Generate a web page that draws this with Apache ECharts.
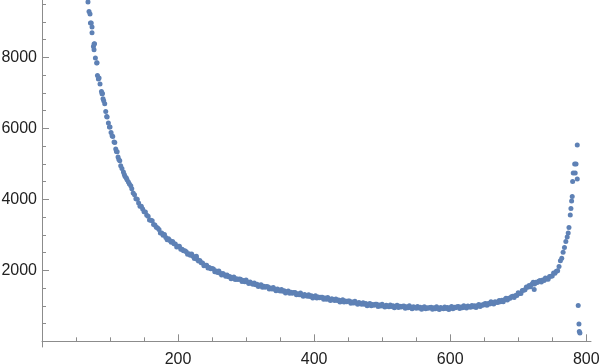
<!DOCTYPE html>
<html>
<head>
<meta charset="utf-8">
<script src="https://cdn.jsdelivr.net/npm/echarts@6/dist/echarts.min.js"></script>
<style>html,body{margin:0;padding:0;background:#fff;}#c{width:600px;height:364px;}</style>
</head>
<body>
<div id="c"></div>
<script>
// X tick labels and Y tick labels
const xMajorTicks = [200, 400, 600, 800];
const xMinorTicks = [50, 100, 150, 250, 300, 350, 450, 500, 550, 650, 700, 750];
const yMajorTicks = [2000, 4000, 6000, 8000];
const yMinorTicks = [500, 1000, 1500, 2500, 3000, 3500, 4500, 5000, 5500, 6500, 7000, 7500, 8500, 9000, 9500];

// steep left tail (sparse points)
const leftPoints = [
[67.6,9560],[69.1,9295],[70.6,9222],[71.2,8968],[72.4,8970],[73.5,8856],[73.5,8695],[75.6,8309],[76.5,8377],[77.2,8380],[76.5,8216],[78.5,7982],[80.4,7841],[80.9,7845],[81.5,7492],[82.9,7390],[83.9,7420],[85.3,7249],[87.4,7041],[88.2,6976],[88.9,6985],[89.7,6835],[90.7,6778],[92.2,6694],[93.7,6477],[95.1,6336],[95.7,6320],[97.6,6150],[99.1,6037],[100.0,6040],[101.5,5885],[103.0,5790],[104.0,5772],[105.9,5614],[107.0,5600],[108.4,5417],[109.4,5350],[110.5,5340],[111.8,5192],[113.0,5120],[114.3,5087],[115.7,4946],[117.5,4870],[119.7,4769],[121.0,4700],[122.1,4645],[124.0,4600],[125.0,4552],[127.0,4490],[128.5,4431],[130.5,4380]
];

// main band
const bandPoints = [
[132,4300],[134,4180],[136,4132],[138,4019],[140,4000],[142,3895],[144,3805],[146,3804],[148,3728],[150,3652],[152,3646],[154,3550],[156,3523],[158,3416],[160,3412],[162,3397],[164,3291],[166,3280],[168,3216],[170,3193],[172,3149],[174,3051],[176,3053],[178,2990],[180,3007],[182,2924],[184,2861],[186,2888],[188,2840],[190,2792],[192,2814],[194,2746],[196,2743],[198,2660],[200,2677],[202,2679],[204,2591],[206,2597],[208,2553],[210,2549],[212,2525],[214,2450],[216,2470],[218,2425],[220,2460],[222,2395],[224,2335],[226,2360],[227,2400],[228,2310],[230,2260],[232,2280],[234,2212],[236,2209],[238,2126],[240,2143],[242,2145],[244,2065],[246,2080],[248,2045],[250,2050],[252,2035],[254,1962],[256,1984],[258,1941],[260,1978],[262,1915],[264,1869],[266,1908],[268,1872],[270,1836],[272,1870],[274,1817],[276,1828],[278,1760],[280,1792],[282,1810],[284,1740],[286,1765],[288,1740],[290,1755],[292,1750],[294,1685],[296,1715],[298,1680],[300,1725],[302,1669],[304,1627],[306,1671],[308,1639],[310,1607],[312,1646],[314,1595],[316,1609],[318,1543],[320,1577],[322,1596],[324,1525],[326,1550],[328,1526],[330,1542],[332,1538],[334,1474],[336,1505],[338,1471],[340,1518],[342,1466],[344,1428],[346,1475],[348,1448],[350,1420],[352,1461],[354,1412],[356,1427],[358,1363],[360,1399],[362,1420],[364,1352],[366,1380],[368,1357],[370,1374],[372,1372],[374,1309],[376,1342],[378,1311],[380,1359],[382,1308],[384,1271],[386,1320],[388,1294],[390,1268],[392,1312],[394,1265],[396,1284],[398,1223],[400,1262],[402,1285],[404,1219],[406,1248],[408,1226],[410,1245],[412,1244],[414,1184],[416,1218],[418,1188],[420,1237],[422,1187],[424,1151],[426,1201],[428,1175],[430,1149],[432,1193],[434,1148],[436,1167],[438,1107],[440,1147],[442,1172],[444,1107],[446,1137],[448,1117],[450,1137],[452,1136],[454,1076],[456,1111],[458,1080],[460,1130],[462,1079],[464,1044],[466,1093],[468,1068],[470,1042],[472,1087],[474,1042],[476,1063],[478,1003],[480,1044],[482,1069],[484,1005],[486,1037],[488,1019],[490,1041],[492,1042],[494,984],[496,1021],[498,993],[500,1045],[502,998],[504,965],[506,1017],[508,994],[510,972],[512,1020],[514,978],[516,1001],[518,944],[520,987],[522,1015],[524,952],[526,985],[528,967],[530,990],[532,992],[534,935],[536,973],[538,946],[540,999],[542,952],[544,920],[546,973],[548,952],[550,930],[552,979],[554,937],[556,961],[558,904],[560,948],[562,976],[564,915],[566,949],[568,932],[570,956],[572,961],[574,905],[576,945],[578,920],[580,974],[582,929],[584,899],[586,955],[588,935],[590,915],[592,965],[594,926],[596,952],[598,899],[600,946],[602,978],[604,920],[606,957],[608,944],[610,972],[612,980],[614,927],[616,970],[618,948],[620,1005],[622,963],[624,936],[626,993],[628,976],[630,959],[632,1012],[634,976],[636,1005],[638,954],[640,1003],[642,1036],[644,980],[646,1024],[648,1017],[650,1051],[652,1064],[654,1018],[656,1066],[658,1050],[660,1113],[662,1075],[664,1053],[666,1115],[668,1103],[670,1091],[672,1148],[674,1118],[676,1156],[678,1114],[680,1172],[682,1215],[684,1167],[686,1215],[688,1213],[690,1253],[692,1273],[694,1233],[696,1291],[698,1289],[700,1367],[702,1345],[704,1345],[706,1430],[708,1440],[710,1450],[712,1530],[714,1520],[716,1570],[718,1540],[720,1610],[722,1665],[723.5,1460],[724,1616],[726,1662],[728,1658],[730,1694],[732,1710],[734,1670],[736,1725],[738,1715],[740,1785],[742,1755],[744,1750],[746,1829],[748,1834],[750,1842],[752,1925],[754,1917],[756,1975],[758,1990],[760,2105],[762,2268],[764,2342],[766,2510],[768,2642],[770,2812]
];

// steep right end
const rightPoints = [
[772.0,2937],[773.5,3050],[774.6,3207],[776.5,3557],[777.5,3743],[778.5,3951],[779.4,4081],[780.0,4504],[780.9,4741],[783.8,4741],[783.0,4994],[785.0,4994],[786.8,4572],[786.8,5530],[788.2,1009],[789.3,485],[789.8,276],[790.7,231]
];

const chart = echarts.init(document.getElementById('c'), null, {renderer: 'canvas'});
const axisColor = '#8c8c8c';
const labelFont = {color: '#222', fontFamily: 'Liberation Sans', fontSize: 16};
const plainNum = v => String(v);
const allPoints = leftPoints.concat(bandPoints, rightPoints);

chart.setOption({
  animation: false,
  backgroundColor: '#ffffff',
  grid: {left: 42, right: 9, top: 0, bottom: 17, containLabel: false, outerBoundsMode: 'none'},
  xAxis: [{
    type: 'value', min: 0, max: 807, position: 'bottom',
    splitLine: {show: false},
    axisLine: {show: true, onZero: true, lineStyle: {color: axisColor, width: 1}},
    axisTick: {show: true, inside: true, length: 7, customValues: xMajorTicks, lineStyle: {color: axisColor}},
    axisLabel: Object.assign({show: true, margin: 5, customValues: xMajorTicks, formatter: plainNum}, labelFont)
  }, {
    type: 'value', min: 0, max: 807, position: 'bottom',
    splitLine: {show: false},
    axisLine: {show: false, onZero: true},
    axisTick: {show: true, inside: true, length: 4, customValues: xMinorTicks, lineStyle: {color: axisColor}},
    axisLabel: {show: false}
  }],
  yAxis: [{
    type: 'value', min: -160, max: 9616, position: 'left',
    splitLine: {show: false},
    axisLine: {show: true, onZero: false, lineStyle: {color: axisColor, width: 1}},
    axisTick: {show: true, inside: true, length: 7, customValues: yMajorTicks, lineStyle: {color: axisColor}},
    axisLabel: Object.assign({show: true, margin: 5, customValues: yMajorTicks, formatter: plainNum, hideOverlap: false}, labelFont)
  }, {
    type: 'value', min: -160, max: 9616, position: 'left',
    splitLine: {show: false},
    axisLine: {show: false, onZero: false},
    axisTick: {show: true, inside: true, length: 4, customValues: yMinorTicks, lineStyle: {color: axisColor}},
    axisLabel: {show: false}
  }],
  series: [{
    type: 'scatter',
    xAxisIndex: 0, yAxisIndex: 0,
    data: allPoints,
    symbol: 'circle',
    symbolSize: 5,
    itemStyle: {color: '#5E81B5', opacity: 1},
    silent: true
  }]
});
</script>
</body>
</html>
